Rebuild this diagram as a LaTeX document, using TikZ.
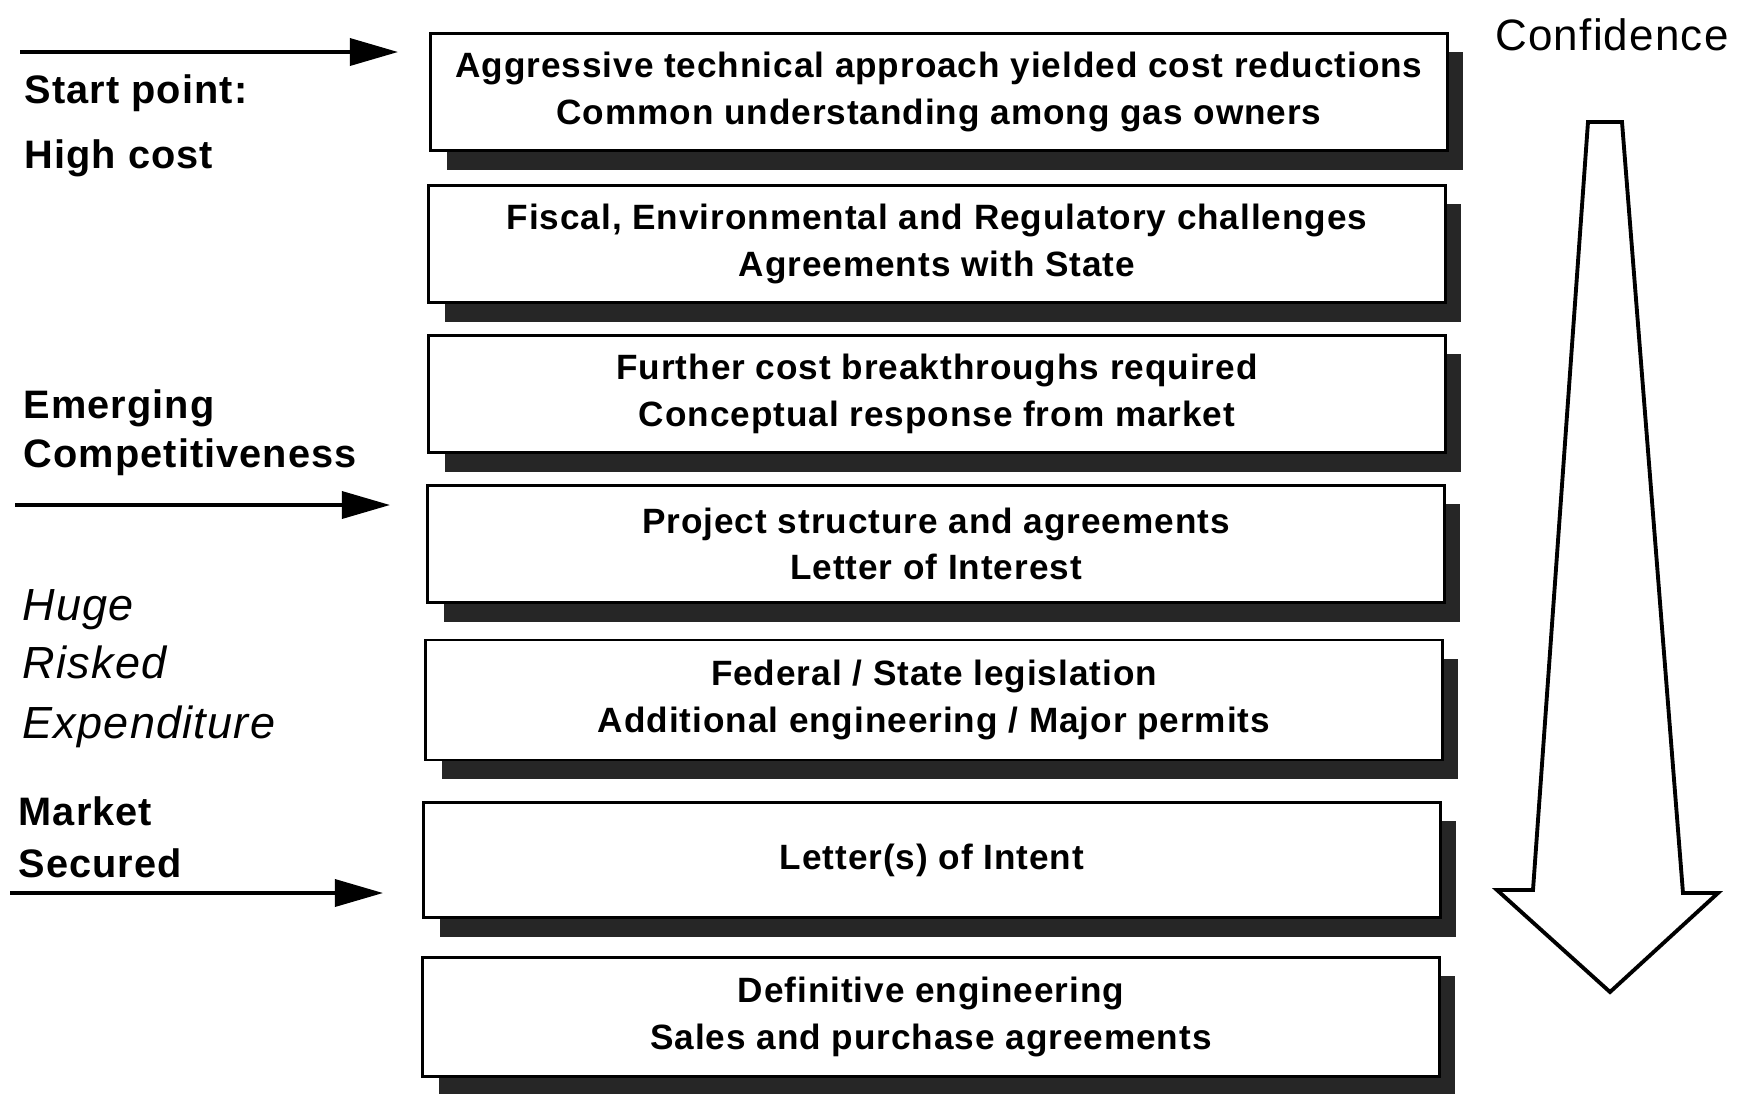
\documentclass[tikz,border=0pt]{standalone}
\usepackage{fontspec}
\setmainfont{Liberation Sans}[LetterSpace=2.7]
\usetikzlibrary{shadows,arrows.meta}
\tikzset{
  stage/.style={draw, line width=0.7pt, fill=white, minimum width=10.16cm, minimum height=1.17cm,
    inner sep=0pt, align=center, font=\fontsize{10}{13.3}\selectfont\bfseries,
    drop shadow={shadow xshift=0.16cm, shadow yshift=-0.19cm, fill=black!85, opacity=1}},
  sidetext/.style={anchor=base west, inner sep=0pt, font=\fontsize{11.3}{13}\selectfont\bfseries},
  risktext/.style={anchor=base west, inner sep=0pt, font=\fontsize{12.8}{15}\selectfont\itshape},
  pointer/.style={line width=1pt, -{Triangle[length=13.7pt,width=7.7pt]}}
}
\begin{document}
\begin{tikzpicture}[x=0.01cm, y=-0.01cm]
\fill[white] (0,0) rectangle (1738,1093);
\useasboundingbox (0,0) rectangle (1738,1093);
\node[stage] (s1) at (939,92) {Aggressive technical approach yielded cost reductions\\Common understanding among gas owners};
\node[stage] (s2) at (937,244) {Fiscal, Environmental and Regulatory challenges\\Agreements with State};
\node[stage] (s3) at (937,394) {Further cost breakthroughs required\\Conceptual response from market};
\node[stage] (s4) at (936,544) {Project structure and agreements\\Letter of Interest};
\node[stage, minimum height=1.2cm] (s5) at (934,700) {Federal / State legislation\\Additional engineering / Major permits};
\node[stage, minimum height=1.15cm] (s6) at (932,860) {Letter(s) of Intent};
\node[stage, minimum height=1.19cm] (s7) at (931,1017) {Definitive engineering\\Sales and purchase agreements};
\node[sidetext] (t1) at (24,103) {Start point:};
\node[sidetext] (t2) at (24,168) {High cost};
\node[sidetext] (t3) at (23,418) {Emerging};
\node[sidetext] (t4) at (23,467) {Competitiveness};
\node[risktext] (t5) at (22,620) {Huge};
\node[risktext] (t6) at (22,678) {Risked};
\node[risktext] (t7) at (22,738) {Expenditure};
\node[sidetext] (t8) at (18,825) {Market};
\node[sidetext] (t9) at (18,877) {Secured};
\node[anchor=base, inner sep=0pt, font=\fontsize{12.5}{14}\selectfont] (conf) at (1612,50) {Confidence};
\coordinate (a1) at (20,52);
\coordinate (b1) at (398,52);
\coordinate (a2) at (15,505);
\coordinate (b2) at (390,505);
\coordinate (a3) at (10,893);
\coordinate (b3) at (383,893);
\draw[pointer] (a1) -- (b1);
\draw[pointer] (a2) -- (b2);
\draw[pointer] (a3) -- (b3);
\draw[line width=1.1pt] (1588,122) -- (1622,122) -- (1683,893) -- (1718,893) -- (1610,992) -- (1497,890) -- (1533,890) -- cycle;
\end{tikzpicture}
\end{document}
